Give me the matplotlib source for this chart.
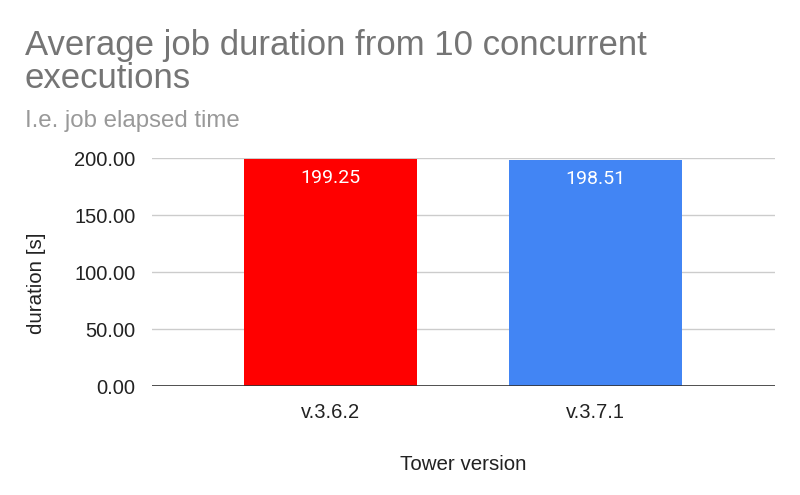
import matplotlib
matplotlib.use("Agg")
import matplotlib.pyplot as plt

versions = ["v.3.6.2", "v.3.7.1"]
durations = [199.25, 198.51]
bar_colors = ["#ff0000", "#4285f4"]
y_ticks = [0, 50, 100, 150, 200]
title_lines = ["Average job duration from 10 concurrent", "executions"]

plt.rcParams["font.family"] = ["Liberation Sans", "DejaVu Sans"]

fig = plt.figure(figsize=(8, 4.95), dpi=100)
ax = fig.add_axes([0.19, 0.2202, 0.779, 0.4606])

x = range(len(versions))
ax.bar(x, durations, width=0.653, color=bar_colors, zorder=2)

for xi, v in zip(x, durations):
    ax.text(xi, v - 17, f"{v:.2f}", ha="center", va="center", color="white",
            fontsize=14, family=["Roboto", "DejaVu Sans"], zorder=3)

ax.set_xlim(-0.674, 1.677)
ax.set_ylim(0, 200)
ax.set_yticks(y_ticks)
ax.set_yticklabels([f"{t:.2f}" for t in y_ticks])
ax.set_xticks(list(x))
ax.set_xticklabels(versions)
ax.tick_params(axis="both", length=0, labelsize=14.5, labelcolor="#222222")
ax.tick_params(axis="y", pad=12)
ax.tick_params(axis="x", pad=12)

ax.grid(axis="y", color="#cccccc", linewidth=1, zorder=0)
ax.axhline(0, color="#333333", linewidth=1.2, zorder=3)
for s in ax.spines.values():
    s.set_visible(False)

ax.set_ylabel("duration [s]", fontsize=14.8, color="#222222", labelpad=20, y=0.452)
ax.set_xlabel("Tower version", fontsize=14.8, color="#222222", labelpad=24)

# title drawn line by line so the baselines sit where the reference has them
for line, yb in zip(title_lines, [0.8889, 0.8222]):
    fig.text(0.031, yb, line, fontsize=25, color="#757575",
             ha="left", va="baseline")
fig.text(0.031, 0.7434, "I.e. job elapsed time", fontsize=17.3, color="#999999",
         ha="left", va="baseline")

fig.savefig("out.png", dpi=100)
